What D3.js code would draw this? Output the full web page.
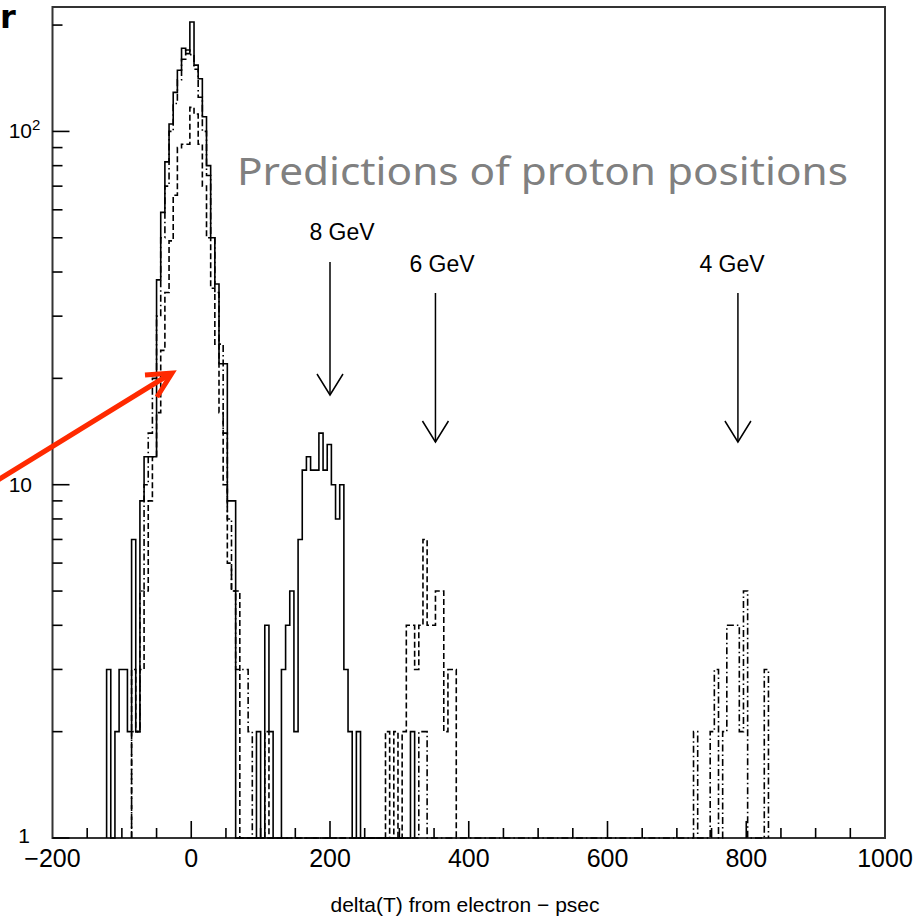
<!DOCTYPE html>
<html>
<head>
<meta charset="utf-8">
<script src="https://cdn.jsdelivr.net/npm/d3@7"></script>
<style>
  html, body { margin: 0; padding: 0; background: #fff; }
  svg { display: block; }
</style>
</head>
<body>
<script>
// histogram binning (psec)
var binLow = -200, binWidth = 6;

// solid histogram: electron peak, 8 GeV protons, stray bin
var solidPeakFrom = -122;
var solidPeak = [3, 0, 2, 3, 3, 2, 7, 2, 9, 12, 12, 12, 38, 59, 82, 105, 129, 149, 172, 166,
                 204, 154, 141, 110, 80, 50, 37, 22, 22, 9, 9];
var solidBumpFrom = 94;
var solidBump = [2, 0, 4, 2, 0, 0, 3, 4, 5, 2, 7, 11, 12, 11, 11, 14, 11, 13, 10, 8, 10, 3, 2, 0, 2];
var solidExtraFrom = 316;
var solidExtra = [2];

// dashed histogram: electron peak, 6 GeV protons
var dashedPeakFrom = -86;
var dashedPeak = [3, 2, 3, 5, 9, 12, 16, 24, 35, 49, 66, 90, 92, 92, 117, 112, 92, 70, 50, 36,
                  25, 16, 10, 6, 5, 5];
var dashedBumpFrom = 106;
var dashedBump = [2];
var dashed6From = 280;
var dashed6 = [2, 0, 2, 0, 2, 4, 4, 3, 4, 7, 4, 4, 5, 5, 2, 3, 3];

// dash-dot histogram: electron peak, 4 GeV protons
var dashDotPeakFrom = -86;
var dashDotPeak = [2, 2, 5, 10, 14, 20, 30, 50, 70, 100, 120, 140, 160, 170, 165, 150, 125, 100,
                   75, 50, 35, 25, 14, 8, 5, 3, 3, 3, 2];
var dashDot6From = 328;
var dashDot6 = [2, 2];
var dashDot4From = 726;
var dashDot4 = [2, 0, 0, 0, 2, 3, 0, 2, 4, 4, 4, 2, 5, 0, 0, 0, 0, 3];

// predicted proton positions
var predLabels = ['8 GeV', '6 GeV', '4 GeV'];
var predTimes = [200, 352, 788];

var xTickLabels = ['\u2212200', '0', '200', '400', '600', '800', '1000'];
var xTickValues = [-200, 0, 200, 400, 600, 800, 1000];

var W = 920, H = 920;
var svg = d3.select('body').append('svg').attr('width', W).attr('height', H);

var x = d3.scaleLinear().domain([-200, 1000]).range([52.5, 885]);
var y = d3.scaleLog().domain([1, 225]).range([838, 7]);

var axisFont = '"Liberation Sans", Arial, sans-serif';

// frame
svg.append('rect').attr('x', 52.5).attr('y', 7).attr('width', 885 - 52.5).attr('height', 838 - 7)
  .attr('fill', 'none').attr('stroke', '#333').attr('stroke-width', 2);

// y axis: ticks inside the frame
var yMajor = [1, 10, 100];
var yMinor = [];
[1, 10, 100].forEach(function(d) {
  for (var k = 2; k <= 9; k++) if (d * k <= 225) yMinor.push(d * k);
});
var gy = svg.append('g').attr('stroke', '#000').attr('stroke-width', 1.6);
gy.selectAll('line.maj').data(yMajor).enter().append('line')
  .attr('x1', 52.5).attr('x2', 52.5 + 17).attr('y1', y).attr('y2', y);
gy.selectAll('line.min').data(yMinor).enter().append('line')
  .attr('x1', 52.5).attr('x2', 52.5 + 10).attr('y1', y).attr('y2', y);

var ylab = svg.append('g').attr('font-family', axisFont).attr('font-size', 21).attr('fill', '#000');
ylab.append('text').attr('x', 30).attr('y', y(1) + 5).attr('text-anchor', 'end').text('1');
ylab.append('text').attr('x', 32).attr('y', y(10) + 7).attr('text-anchor', 'end').text('10');
ylab.append('text').attr('x', 32).attr('y', y(100) + 7).attr('text-anchor', 'end').text('10');
ylab.append('text').attr('x', 32).attr('y', y(100) - 1).attr('font-size', 15).text('2');

// x axis ticks: every 50, long ones at the labels
var xMinor = d3.range(-150, 1000, 50).filter(function(d) { return d % 200 !== 0; });
var xMajor = xTickValues.slice(1, -1);
var gx = svg.append('g').attr('stroke', '#000').attr('stroke-width', 1.6);
gx.selectAll('line.min').data(xMinor).enter().append('line')
  .attr('x1', x).attr('x2', x).attr('y1', 838).attr('y2', 838 - 10);
gx.selectAll('line.maj').data(xMajor).enter().append('line')
  .attr('x1', x).attr('x2', x).attr('y1', 838).attr('y2', 838 - 17);

svg.append('g').attr('font-family', axisFont).attr('font-size', 25).attr('fill', '#000')
  .selectAll('text').data(xTickValues).enter().append('text')
  .attr('x', x).attr('y', 867).attr('text-anchor', 'middle')
  .text(function(d, i) { return xTickLabels[i]; });

svg.append('text').attr('x', 465).attr('y', 912).attr('text-anchor', 'middle')
  .attr('font-family', axisFont).attr('font-size', 21).text('delta(T) from electron \u2212 psec');

// step outline of a histogram made from runs of counts
function stepPath(runs) {
  var counts = new Map();
  runs.forEach(function(r) {
    var i0 = Math.round((r.from - binLow) / binWidth);
    r.counts.forEach(function(c, i) { counts.set(i0 + i, c); });
  });
  var keys = Array.from(counts.keys()).sort(d3.ascending);
  var lo = keys[0], hi = keys[keys.length - 1];
  var edge = function(i) { return x(binLow + i * binWidth); };
  var p = d3.path();
  p.moveTo(edge(lo), y(1));
  for (var i = lo; i <= hi; i++) {
    var c = counts.get(i) || 0;
    var yy = c >= 1 ? y(c) : y(1);
    p.lineTo(edge(i), yy);
    p.lineTo(edge(i + 1), yy);
  }
  p.lineTo(edge(hi + 1), y(1));
  return p.toString();
}

var series = [
  { runs: [{ from: dashDotPeakFrom, counts: dashDotPeak }, { from: dashDot6From, counts: dashDot6 },
           { from: dashDot4From, counts: dashDot4 }], dash: '7,3,1.5,3' },
  { runs: [{ from: dashedPeakFrom, counts: dashedPeak }, { from: dashedBumpFrom, counts: dashedBump },
           { from: dashed6From, counts: dashed6 }], dash: '6,3' },
  { runs: [{ from: solidPeakFrom, counts: solidPeak }, { from: solidBumpFrom, counts: solidBump },
           { from: solidExtraFrom, counts: solidExtra }], dash: null }
];

svg.append('g').selectAll('path').data(series).enter().append('path')
  .attr('d', function(d) { return stepPath(d.runs); })
  .attr('fill', 'none').attr('stroke', '#000').attr('stroke-width', 1.6)
  .attr('stroke-dasharray', function(d) { return d.dash; });

// prediction arrows
var arrowTop = [262, 293, 293], arrowTip = [395, 442, 442];
var labelX = [342, 442, 732], labelY = [240, 272, 272];
var ga = svg.append('g').attr('stroke', '#000').attr('stroke-width', 1.5).attr('fill', 'none');
predTimes.forEach(function(t, i) {
  var px = x(t);
  ga.append('line').attr('x1', px).attr('x2', px).attr('y1', arrowTop[i]).attr('y2', arrowTip[i]);
  ga.append('path').attr('d', 'M' + (px - 13) + ',' + (arrowTip[i] - 21) + 'L' + px + ',' + arrowTip[i] +
    'L' + (px + 13) + ',' + (arrowTip[i] - 21));
  svg.append('text').attr('x', labelX[i]).attr('y', labelY[i]).attr('text-anchor', 'middle')
    .attr('font-family', axisFont).attr('font-size', 23).text(predLabels[i]);
});

svg.append('text').attr('x', 237).attr('y', 185).attr('font-family', '"Noto Sans", sans-serif')
  .attr('font-size', 38).attr('fill', '#808080')
  .attr('textLength', 611).attr('lengthAdjust', 'spacingAndGlyphs')
  .text('Predictions of proton positions');

// red pointer
var ra = svg.append('g').attr('stroke', '#ff2a00').attr('stroke-width', 5).attr('fill', 'none')
  .attr('stroke-linecap', 'butt').attr('stroke-linejoin', 'miter');
ra.append('line').attr('x1', -2).attr('y1', 480).attr('x2', 170).attr('y2', 374);
ra.append('path').attr('d', 'M145,375L172,373L157,397');

// fragment of slide text at the corner
svg.append('text').attr('x', 0).attr('y', 28).attr('font-family', '"DejaVu Sans", sans-serif')
  .attr('font-weight', 'bold').attr('font-size', 32).text('r');
</script>
</body>
</html>
